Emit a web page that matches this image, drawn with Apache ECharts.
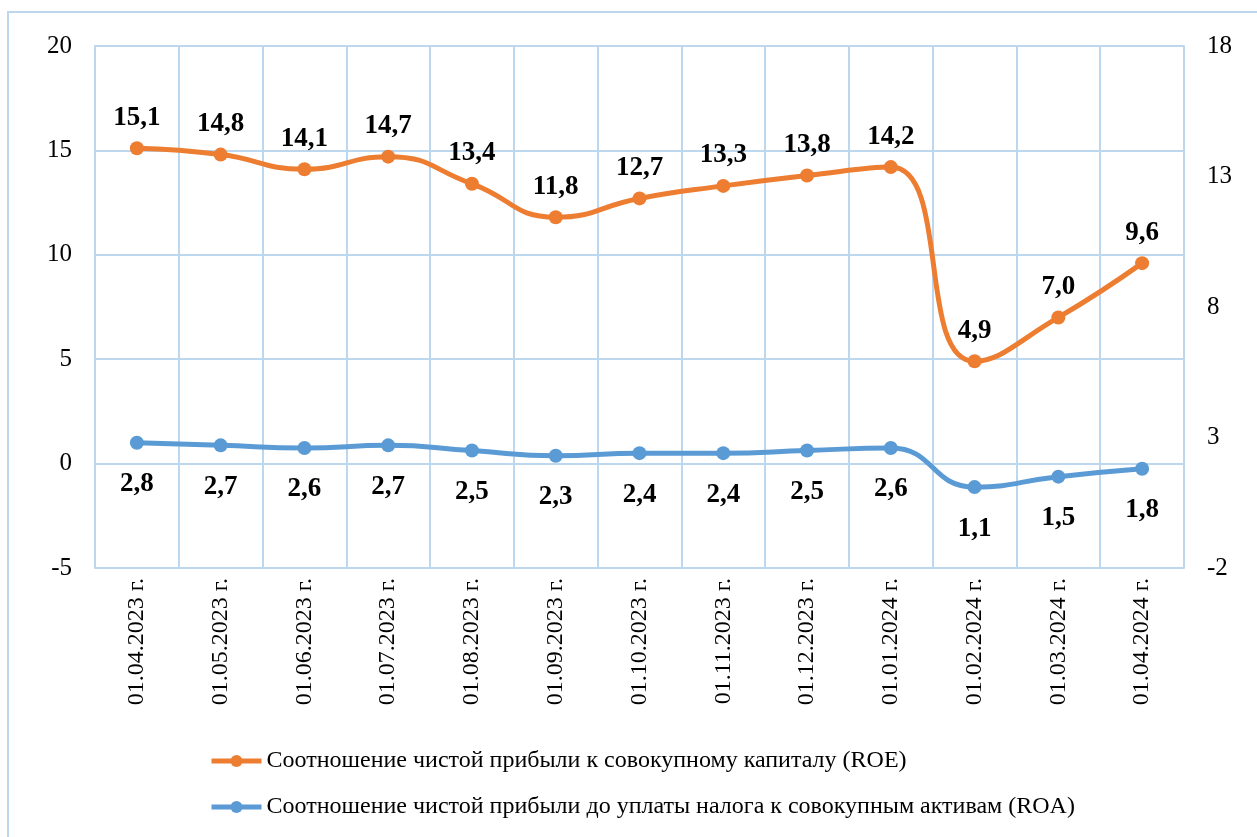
<!DOCTYPE html>
<html>
<head>
<meta charset="utf-8">
<script src="https://cdn.jsdelivr.net/npm/echarts@6/dist/echarts.min.js"></script>
<style>
  html, body { margin: 0; padding: 0; background: #fff; }
  #chart { width: 1257px; height: 837px; }
</style>
</head>
<body>
<div id="chart"></div>
<script type="text/javascript">
  // даты отчетов
  var categories = ['01.04.2023 г.', '01.05.2023 г.', '01.06.2023 г.', '01.07.2023 г.', '01.08.2023 г.',
    '01.09.2023 г.', '01.10.2023 г.', '01.11.2023 г.', '01.12.2023 г.', '01.01.2024 г.',
    '01.02.2024 г.', '01.03.2024 г.', '01.04.2024 г.'];
  var roeName = 'Соотношение чистой прибыли к совокупному капиталу (ROE)';
  var roaName = 'Соотношение чистой прибыли до уплаты налога к совокупным активам (ROA)';
  var roeValues = [15.1, 14.8, 14.1, 14.7, 13.4, 11.8, 12.7, 13.3, 13.8, 14.2, 4.9, 7.0, 9.6];
  var roaValues = [2.8, 2.7, 2.6, 2.7, 2.5, 2.3, 2.4, 2.4, 2.5, 2.6, 1.1, 1.5, 1.8];

  var font = '"Liberation Serif", "Times New Roman", serif';
  var gridColor = '#BDD7EE';

  function fmt(p) {
    return p.value.toFixed(1).replace('.', ',');
  }

  var myChart = echarts.init(document.getElementById('chart'));
  var option = {
    animation: false,
    textStyle: { fontFamily: font },
    graphic: [{
      type: 'rect',
      shape: { x: 8, y: 12, width: 1270, height: 850 },
      style: { fill: 'none', stroke: gridColor, lineWidth: 2 }
    }],
    grid: { left: 95, right: 73, top: 46, bottom: 269 },
    legend: {
      orient: 'vertical',
      left: 204,
      top: 744,
      itemGap: 22,
      itemWidth: 50,
      itemHeight: 15,
      lineStyle: { width: 5 },
      textStyle: { fontFamily: font, fontSize: 24, color: '#000' },
      data: [roeName, roaName]
    },
    xAxis: {
      type: 'category',
      data: categories,
      boundaryGap: true,
      axisLine: { show: true, lineStyle: { color: gridColor, width: 2 } },
      axisTick: { show: false },
      splitLine: { show: true, lineStyle: { color: gridColor, width: 2 } },
      axisLabel: { rotate: 90, margin: 10, fontFamily: font, fontSize: 24, color: '#000' }
    },
    yAxis: [{
      type: 'value',
      min: -5, max: 20, interval: 5,
      axisLine: { show: true, lineStyle: { color: gridColor, width: 2 } },
      axisTick: { show: false },
      splitLine: { show: true, lineStyle: { color: gridColor, width: 2 } },
      axisLabel: { margin: 23, fontFamily: font, fontSize: 25, color: '#000' }
    }, {
      type: 'value',
      min: -2, max: 18, interval: 5,
      axisLine: { show: true, lineStyle: { color: gridColor, width: 2 } },
      axisTick: { show: false },
      splitLine: { show: false },
      axisLabel: { margin: 23, fontFamily: font, fontSize: 25, color: '#000' }
    }],
    series: [{
      name: roeName,
      type: 'line',
      yAxisIndex: 0,
      data: roeValues,
      smooth: 0.5,
      symbol: 'circle',
      symbolSize: 14,
      lineStyle: { color: '#ED7D31', width: 5 },
      itemStyle: { color: '#ED7D31' },
      label: {
        show: true, position: 'top', distance: 10,
        formatter: fmt,
        fontFamily: font, fontSize: 27, fontWeight: 'bold', color: '#000'
      }
    }, {
      name: roaName,
      type: 'line',
      yAxisIndex: 1,
      data: roaValues,
      smooth: 0.5,
      symbol: 'circle',
      symbolSize: 14,
      lineStyle: { color: '#5B9BD5', width: 5 },
      itemStyle: { color: '#5B9BD5' },
      label: {
        show: true, position: 'bottom', distance: 21,
        formatter: fmt,
        fontFamily: font, fontSize: 27, fontWeight: 'bold', color: '#000'
      }
    }]
  };
  myChart.setOption(option);
</script>
</body>
</html>
